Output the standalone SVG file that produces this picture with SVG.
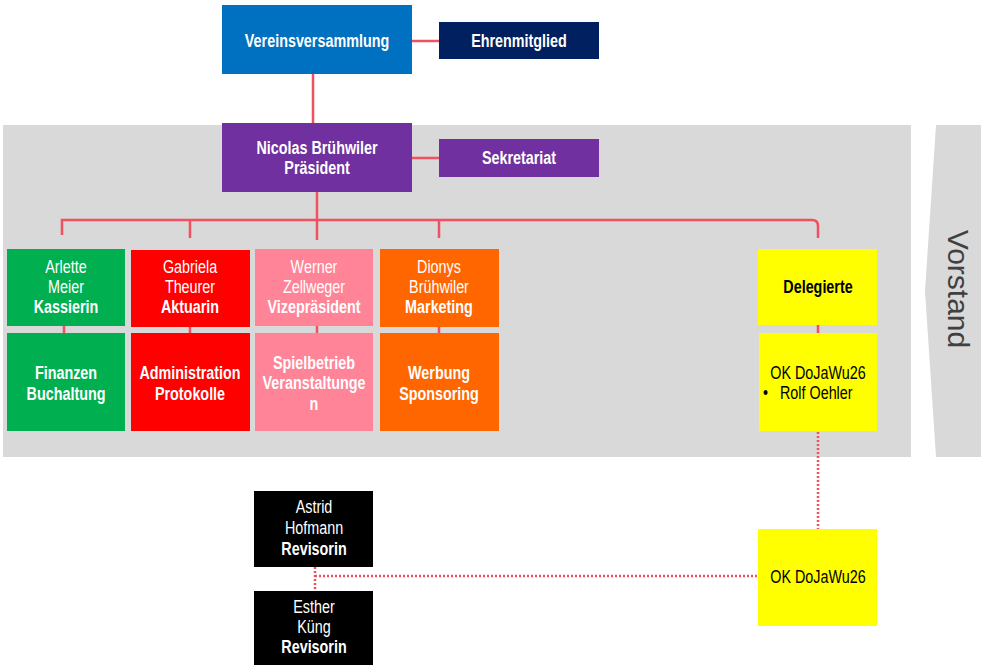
<svg xmlns="http://www.w3.org/2000/svg" width="985" height="665" viewBox="0 0 985 665">
<style>
.n{font-family:"Liberation Sans",Arial,sans-serif;fill:#fff;text-anchor:middle;font-size:17.5px}
.b{font-weight:bold}
.k{fill:#000}
.l{text-anchor:start}
.c{fill:none;stroke:#f0505f;stroke-width:2.5}
.d{fill:none;stroke:#f0505f;stroke-width:2.5;stroke-dasharray:2 2}
</style>
<rect x="0" y="0" width="985" height="665" fill="#fff"/>
<g id="band">
<rect x="3" y="125" width="908" height="332" fill="#d9d9d9"/>
<polygon points="936,125 981,125 981,457 936,457 925,291" fill="#d9d9d9"/>
<text x="958" y="289" transform="rotate(90 958 289)" text-anchor="middle" dominant-baseline="central" font-family="Liberation Sans,Arial,sans-serif" font-size="30" fill="#404040">Vorstand</text>
</g>
<g id="connectors">
<line class="c" x1="412" y1="41" x2="439" y2="41"/>
<line class="c" x1="313" y1="74" x2="313" y2="123"/>
<line class="c" x1="412" y1="158" x2="439" y2="158"/>
<line class="c" x1="317" y1="192" x2="317" y2="240"/>
<path class="c" d="M62,235 V220 H812 Q818,220 818,226 V238"/>
<line class="c" x1="190" y1="220" x2="190" y2="238"/>
<line class="c" x1="439" y1="220" x2="439" y2="238"/>
<line class="c" x1="64" y1="326" x2="64" y2="333"/>
<line class="c" x1="190" y1="327" x2="190" y2="333"/>
<line class="c" x1="317" y1="326" x2="317" y2="333"/>
<line class="c" x1="439" y1="327" x2="439" y2="333"/>
<line class="c" x1="818" y1="325" x2="818" y2="333"/>
<line class="d" x1="818" y1="432" x2="818" y2="529"/>
<line class="d" x1="315" y1="567" x2="315" y2="591"/>
<line class="d" x1="315" y1="576" x2="758" y2="576"/>
</g>
<g id="vereinsversammlung">
<rect x="222" y="5" width="190" height="69" fill="#0070c0"/>
<text class="n b" transform="translate(317 47) scale(.82 1)">Vereinsversammlung</text>
</g>
<g id="ehrenmitglied">
<rect x="439" y="22" width="160" height="37" fill="#002060"/>
<text class="n b" transform="translate(519 47) scale(.82 1)">Ehrenmitglied</text>
</g>
<g id="praesident">
<rect x="222" y="123" width="190" height="69" fill="#7030a0"/>
<text class="n b" transform="translate(317 154) scale(.82 1)">Nicolas Brühwiler</text>
<text class="n b" transform="translate(317 174) scale(.82 1)">Präsident</text>
</g>
<g id="sekretariat">
<rect x="439" y="139" width="160" height="38" fill="#7030a0"/>
<text class="n b" transform="translate(519 164) scale(.82 1)">Sekretariat</text>
</g>
<g id="kassierin">
<rect x="7" y="249" width="118" height="77" fill="#00b050"/>
<text class="n" transform="translate(66 273) scale(.82 1)">Arlette</text>
<text class="n" transform="translate(66 293) scale(.82 1)">Meier</text>
<text class="n b" transform="translate(66 313) scale(.82 1)">Kassierin</text>
</g>
<g id="finanzen">
<rect x="7" y="333" width="118" height="98" fill="#00b050"/>
<text class="n b" transform="translate(66 379) scale(.82 1)">Finanzen</text>
<text class="n b" transform="translate(66 400) scale(.82 1)">Buchaltung</text>
</g>
<g id="aktuarin">
<rect x="131" y="250" width="119" height="77" fill="#ff0000"/>
<text class="n" transform="translate(190 273) scale(.82 1)">Gabriela</text>
<text class="n" transform="translate(190 293) scale(.82 1)">Theurer</text>
<text class="n b" transform="translate(190 313) scale(.82 1)">Aktuarin</text>
</g>
<g id="administration">
<rect x="131" y="333" width="119" height="98" fill="#ff0000"/>
<text class="n b" transform="translate(190 379) scale(.82 1)">Administration</text>
<text class="n b" transform="translate(190 400) scale(.82 1)">Protokolle</text>
</g>
<g id="vizepraesident">
<rect x="255" y="249" width="118" height="77" fill="#ff8497"/>
<text class="n" transform="translate(314 273) scale(.82 1)">Werner</text>
<text class="n" transform="translate(314 293) scale(.82 1)">Zellweger</text>
<text class="n b" transform="translate(314 313) scale(.82 1)">Vizepräsident</text>
</g>
<g id="spielbetrieb">
<rect x="255" y="333" width="118" height="98" fill="#ff8497"/>
<text class="n b" transform="translate(314 369) scale(.82 1)">Spielbetrieb</text>
<text class="n b" transform="translate(314 389) scale(.82 1)">Veranstaltunge</text>
<text class="n b" transform="translate(314 410) scale(.82 1)">n</text>
</g>
<g id="marketing">
<rect x="380" y="249" width="119" height="78" fill="#ff6600"/>
<text class="n" transform="translate(439 273) scale(.82 1)">Dionys</text>
<text class="n" transform="translate(439 293) scale(.82 1)">Brühwiler</text>
<text class="n b" transform="translate(439 313) scale(.82 1)">Marketing</text>
</g>
<g id="werbung">
<rect x="380" y="333" width="119" height="98" fill="#ff6600"/>
<text class="n b" transform="translate(439 379) scale(.82 1)">Werbung</text>
<text class="n b" transform="translate(439 400) scale(.82 1)">Sponsoring</text>
</g>
<g id="delegierte">
<rect x="758" y="249" width="119" height="76" fill="#ffff00"/>
<text class="n b k" transform="translate(818 293) scale(.82 1)">Delegierte</text>
</g>
<g id="ok-dojawu26-vorstand">
<rect x="759" y="333" width="118" height="98" fill="#ffff00"/>
<text class="n k" transform="translate(818 379) scale(.82 1)">OK DoJaWu26</text>
<text class="n k l" transform="translate(763 399) scale(.82 1)">•</text>
<text class="n k l" transform="translate(780 399) scale(.82 1)">Rolf Oehler</text>
</g>
<g id="ok-dojawu26">
<rect x="758" y="529" width="119" height="97" fill="#ffff00"/>
<text class="n k" transform="translate(818 583) scale(.82 1)">OK DoJaWu26</text>
</g>
<g id="revisorin-hofmann">
<rect x="254" y="491" width="119" height="76" fill="#000"/>
<text class="n" transform="translate(314 513) scale(.82 1)">Astrid</text>
<text class="n" transform="translate(314 534) scale(.82 1)">Hofmann</text>
<text class="n b" transform="translate(314 555) scale(.82 1)">Revisorin</text>
</g>
<g id="revisorin-kueng">
<rect x="254" y="591" width="119" height="80" fill="#000"/>
<text class="n" transform="translate(314 613) scale(.82 1)">Esther</text>
<text class="n" transform="translate(314 633) scale(.82 1)">Küng</text>
<text class="n b" transform="translate(314 653) scale(.82 1)">Revisorin</text>
</g>
</svg>
